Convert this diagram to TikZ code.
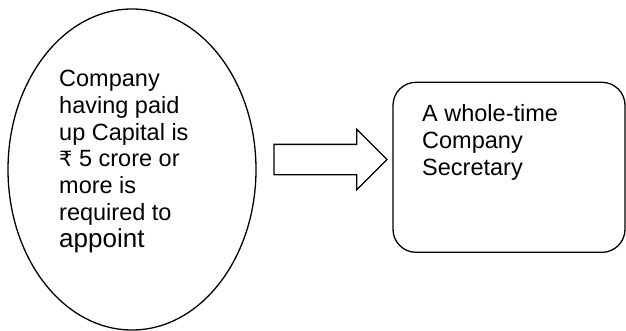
\documentclass[tikz,border=0pt]{standalone}
\usepackage{fontspec}
\setmainfont{Liberation Sans}
\newfontfamily\rupeefont{DejaVu Sans}
\usetikzlibrary{shapes.geometric,shapes.arrows}
\tikzset{
  outline/.style={draw=black, line width=1.3pt},
  bodytext/.style={inner sep=0pt, align=left, anchor=base west,
    font=\fontsize{23.5pt}{26.7pt}\selectfont},
}
\begin{document}
\begin{tikzpicture}[x=1pt,y=-1pt]
\useasboundingbox (0,0) rectangle (626,330);
\node[outline, ellipse, inner sep=0pt, minimum width=248pt, minimum height=321pt] (oval) at (132,169.5) {};
\node[bodytext] (ovaltext) at (59,247) {Company\\having paid\\up Capital is\\{\rupeefont\fontsize{21pt}{26.7pt}\selectfont ₹} 5 crore or\\more is\\required to\\{\fontsize{26pt}{26.7pt}\selectfont appoint}};
\node[outline, single arrow, anchor=tail, inner xsep=0pt, inner ysep=14.5pt, text height=0pt, text depth=0pt,
  minimum height=113pt, single arrow head extend=15pt] (arrow) at (273.3,159.5) {};
\node[outline, rectangle, rounded corners=23pt, minimum width=232pt, minimum height=170pt, inner sep=0pt] (post) at (509,167.3) {};
\node[bodytext] (posttext) at (422,175) {A whole-time\\Company\\Secretary};
\end{tikzpicture}
\end{document}
